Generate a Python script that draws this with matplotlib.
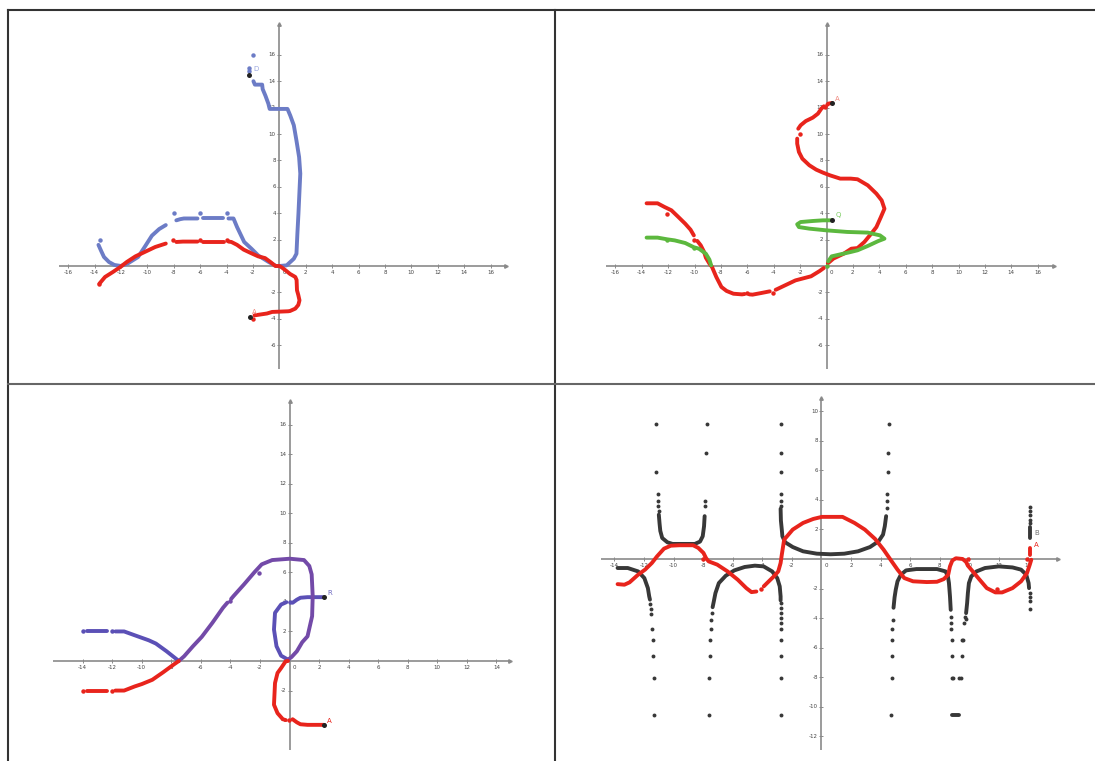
import numpy as np
import matplotlib
matplotlib.use("Agg")
import matplotlib.pyplot as plt
from matplotlib.lines import Line2D

W, H = 1095, 761

# ---------------- colours ----------------
RED = "#e8241c"
BLUE = "#6c7cc6"
GREEN = "#5cb83e"
PURPLE = "#734aa8"
VIOLET = "#5b50b6"
DARK = "#383838"
AXIS = "#8a8a8a"

# ---------------- panel 1 : blue and red traces ----------------
p1_blue_a_x = [-13.7, -13.5, -13.28, -12.9, -12.5, -12.0]
p1_blue_a_y = [1.6, 1.15, 0.68, 0.3, 0.08, 0.0]
p1_blue_b_x = [-12.0, -11.5, -10.7, -10.2, -9.65, -9.1, -8.6]
p1_blue_b_y = [0.0, 0.18, 0.68, 1.44, 2.3, 2.8, 3.1]
p1_blue_c_x = [-7.8, -7.5, -7.23, -6.2]
p1_blue_c_y = [3.46, 3.55, 3.6, 3.6]
p1_blue_d_x = [-5.8, -4.27]
p1_blue_d_y = [3.6, 3.6]
p1_blue_e_x = [-3.85, -3.47, -3.2, -2.66, -2.1, -1.6, -0.8, -0.24, 0.0, 0.56, 1.1, 1.3,
               1.37, 1.45, 1.59, 1.5, 1.3, 1.1, 0.83, 0.62, -0.73, -0.83, -1.05, -1.26,
               -1.3, -1.85, -1.96]
p1_blue_e_y = [3.6, 3.6, 2.95, 1.82, 1.3, 0.8, 0.3, 0.0, 0.0, 0.05, 0.55, 0.93,
               2.45, 3.96, 7.0, 8.25, 9.5, 10.66, 11.4, 11.9, 11.9, 12.3, 12.9, 13.4,
               13.74, 13.74, 14.0]
p1_blue_dots_x = [-13.55, -8.0, -6.0, -4.0, -2.0, -2.27, -2.27]
p1_blue_dots_y = [1.94, 4.0, 4.0, 4.0, 16.0, 14.97, 14.75]

p1_red_a_x = [-13.63, -13.2, -12.6, -12.05, -11.56, -10.9, -10.2, -9.4, -8.6]
p1_red_a_y = [-1.34, -0.83, -0.45, -0.08, 0.3, 0.73, 1.06, 1.44, 1.7]
p1_red_b_x = [-7.8, -7.3, -6.2]
p1_red_b_y = [1.82, 1.85, 1.85]
p1_red_c_x = [-5.78, -4.17]
p1_red_c_y = [1.85, 1.85]
p1_red_d_x = [-3.85, -3.63, -3.2, -2.7, -2.15, -1.6, -1.08, -0.67, -0.3, 0.0, 0.18, 0.54,
              0.81, 1.21, 1.31, 1.34, 1.44, 1.53, 1.44, 1.21, 0.81, 0.67, -0.54, -0.94,
              -1.88]
p1_red_d_y = [1.85, 1.82, 1.6, 1.24, 0.98, 0.73, 0.6, 0.3, 0.0, 0.0, -0.1, -0.38,
              -0.6, -0.83, -1.06, -1.84, -2.2, -2.6, -2.95, -3.23, -3.41, -3.43, -3.48, -3.6,
              -3.74]
p1_red_dots_x = [-13.63, -8.05, -6.0, -4.0, -2.0]
p1_red_dots_y = [-1.34, 2.0, 2.0, 2.0, -4.0]
p1_points = [("D", -2.27, 14.5, -1.95, 14.9, "#9aa6de"),
             ("A", -2.25, -3.84, -2.05, -3.5, "#f08a80")]

# ---------------- panel 2 : red and green traces ----------------
p2_red_a_x = [-13.63, -12.8, -12.27, -11.75, -11.22, -10.7, -10.3, -10.05]
p2_red_a_y = [4.75, 4.75, 4.47, 4.22, 3.71, 3.2, 2.75, 2.32]
p2_red_b_x = [-9.79, -9.53, -9.27, -9.14, -8.87, -8.67, -8.35, -7.96, -7.57, -7.05, -6.4, -6.2]
p2_red_b_y = [1.9, 1.57, 1.06, 0.63, 0.18, -0.08, -0.83, -1.59, -1.89, -2.1, -2.15, -2.12]
p2_red_c_x = [-5.85, -5.6, -4.96, -4.3]
p2_red_c_y = [-2.15, -2.17, -2.05, -1.92]
p2_red_d_x = [-3.85, -3.78, -3.13, -2.35, -1.17, -0.52, -0.2]
p2_red_d_y = [-1.8, -1.77, -1.46, -1.09, -0.78, -0.38, -0.15]
p2_red_e_x = [0.1, 0.52, 1.3, 1.88, 2.35, 2.87, 3.39, 3.78, 4.12, 4.39, 4.18, 3.78, 3.13,
              2.35, 1.83, 1.04, 0.26, -0.26, -0.78, -1.3, -1.83, -2.09, -2.22, -2.22]
p2_red_e_y = [0.2, 0.56, 0.93, 1.31, 1.36, 1.82, 2.45, 2.95, 3.71, 4.34, 4.97, 5.48, 6.11,
              6.57, 6.62, 6.62, 6.87, 7.07, 7.3, 7.63, 8.13, 8.64, 9.27, 9.65]
p2_red_f_x = [-2.14, -1.96, -1.57, -1.04, -0.65, -0.39, -0.2]
p2_red_f_y = [10.4, 10.66, 10.98, 11.24, 11.54, 11.92, 12.1]
p2_red_g_x = [0.05, 0.13, 0.42]
p2_red_g_y = [12.2, 12.3, 12.35]
p2_red_dots_x = [-12.06, -10.05, -6.06, -4.07, -2.04, -0.08]
p2_red_dots_y = [3.96, 2.0, -2.02, -2.02, 9.97, 12.05]

p2_green_a_x = [-13.63, -12.8, -12.06, -11.5, -10.7, -10.05, -9.66, -9.14, -8.87, -8.74]
p2_green_a_y = [2.15, 2.15, 2.02, 1.94, 1.74, 1.42, 1.31, 0.93, 0.48, 0.05]
p2_green_b_x = [0.13, 0.39, 1.04, 1.83, 2.35, 3.13, 3.92, 4.39, 4.05, 3.13, 1.57, 0.0,
                -1.3, -2.09, -2.22, -1.96, -1.04, -0.26, 0.42]
p2_green_b_y = [0.35, 0.73, 0.88, 1.06, 1.19, 1.52, 1.89, 2.07, 2.32, 2.53, 2.58, 2.7,
                2.83, 2.95, 3.16, 3.33, 3.41, 3.46, 3.46]
p2_green_dots_x = [-12.06, -10.05, 0.0]
p2_green_dots_y = [2.0, 1.35, 0.0]
p2_points = [("A", 0.42, 12.32, 0.65, 12.68, "#f08a80"),
             ("Q", 0.42, 3.46, 0.68, 3.84, "#7acc60")]

# ---------------- panel 3 : violet and red traces ----------------
p3_violet_a_x = [-13.69, -12.38]
p3_violet_a_y = [2.0, 2.0]
p3_violet_b_x = [-11.78, -11.19, -10.47, -9.52, -9.04, -8.32, -7.6, -7.49]
p3_violet_b_y = [2.0, 2.0, 1.74, 1.4, 1.18, 0.66, 0.09, 0.0]
p3_violet_dots_x = [-14.0, -12.0, 0.0]
p3_violet_dots_y = [2.0, 2.0, 3.98]
p3_purple_a_x = [-7.49, -7.13, -6.53, -5.94, -5.22, -4.5, -4.2]
p3_purple_a_y = [0.0, 0.32, 1.0, 1.63, 2.58, 3.6, 3.95]
p3_purple_b_x = [-3.95, -3.79, -3.08, -2.36, -2.1, -1.88, -1.17, 0.02, 0.98, 1.34, 1.5,
                 1.57, 1.53, 1.22, 0.86, 0.5, 0.14, -0.1]
p3_purple_b_y = [4.2, 4.39, 5.18, 6.02, 6.3, 6.54, 6.83, 6.92, 6.83, 6.43, 5.86,
                 4.39, 3.03, 1.67, 1.27, 0.66, 0.27, 0.09]
p3_purple_dots_x = [-4.03, -2.05]
p3_purple_dots_y = [4.05, 5.97]
p3_violet_c_x = [-0.1, -0.57, -0.88, -1.05, -0.98, -0.57, -0.21]
p3_violet_c_y = [0.09, 0.36, 1.0, 2.13, 3.26, 3.82, 3.98]
p3_violet_d_x = [0.21, 0.5, 0.74, 1.22, 2.34]
p3_violet_d_y = [3.94, 4.15, 4.28, 4.32, 4.32]

p3_red_a_x = [-13.69, -12.38]
p3_red_a_y = [-2.0, -2.0]
p3_red_b_x = [-11.78, -11.19, -10.47, -9.99, -9.28, -8.56, -7.85, -7.49]
p3_red_b_y = [-2.0, -2.0, -1.72, -1.56, -1.27, -0.77, -0.25, 0.0]
p3_red_c_x = [-0.1, -0.26, -0.57, -0.81, -0.98, -1.05, -0.81, -0.45, -0.25]
p3_red_c_y = [0.0, -0.02, -0.48, -0.81, -1.49, -2.96, -3.53, -3.94, -4.0]
p3_red_d_x = [0.21, 0.5, 0.74, 1.22, 2.34]
p3_red_d_y = [-3.94, -4.15, -4.28, -4.32, -4.32]
p3_red_dots_x = [-14.0, -12.0, -0.02]
p3_red_dots_y = [-2.0, -2.0, -4.0]
p3_points = [("R", 2.34, 4.3, 2.53, 4.62, "#6a66c0"),
             ("A", 2.34, -4.34, 2.53, -4.05, RED)]

# ---------------- panel 4 : dark branches and red trace ----------------
p4_dark_curves = [
    ([-13.79, -13.1, -12.4, -11.98, -11.74, -11.65, -11.6],
     [-0.61, -0.61, -0.84, -1.29, -1.97, -2.53, -2.75]),
    ([-11.0, -10.95, -10.9, -10.77, -10.42, -10.07, -8.56, -8.21, -8.03, -7.94, -7.9],
     [3.0, 2.4, 1.9, 1.42, 1.13, 1.02, 1.02, 1.18, 1.54, 2.22, 2.9]),
    ([-7.36, -7.28, -7.17, -6.94, -6.47, -5.89, -5.19, -4.5, -3.91, -3.33, -2.99, -2.82,
      -2.76, -2.76],
     [-3.26, -2.87, -2.31, -1.63, -1.13, -0.77, -0.54, -0.45, -0.5, -0.84, -1.29, -1.85,
      -2.53, -2.8]),
    ([-2.76, -2.74, -2.68, -2.64, -2.45, -1.94, -1.24, -0.31, 0.62, 1.55, 2.48, 3.29, 3.87,
      4.17, 4.29, 4.38],
     [3.4, 2.6, 1.99, 1.54, 1.13, 0.81, 0.52, 0.36, 0.32, 0.36, 0.52, 0.81, 1.2,
      1.65, 2.22, 2.9]),
    ([4.88, 4.95, 5.03, 5.15, 5.38, 5.73, 6.43, 7.82, 8.4, 8.56, 8.63, 8.7, 8.75],
     [-3.3, -2.6, -2.08, -1.51, -1.06, -0.77, -0.68, -0.68, -0.84, -1.18, -1.63, -2.53,
      -3.44]),
    ([9.79, 9.86, 9.91, 9.98, 10.14, 10.49, 11.07, 12.0, 12.93, 13.51, 13.86, 14.02, 14.05],
     [-3.66, -2.98, -2.31, -1.63, -1.18, -0.84, -0.61, -0.5, -0.57, -0.72, -1.06, -1.63,
      -1.97]),
    ([14.14, 14.14], [1.42, 2.17]),
    ([8.86, 9.33], [-10.54, -10.54]),
]
p4_dark_dots_x = [-11.58, -11.56, -11.54, -11.47, -11.42, -11.4, -11.35, -11.35,
                  -11.21, -11.16, -11.07, -11.05, -11.03, -11.0,
                  -7.9, -7.9, -7.82, -7.75,
                  -7.61, -7.59, -7.56, -7.52, -7.5, -7.45, -7.41,
                  -2.76, -2.76, -2.76, -2.76, -2.76, -2.76, -2.76, -2.76, -2.76, -2.76,
                  -2.76, -2.76, -2.76, -2.76, -2.76, -2.76,
                  4.42, 4.44, 4.46, 4.5, 4.53, 4.56,
                  4.73, 4.75, 4.77, 4.79, 4.81, 4.84,
                  8.78, 8.8, 8.8, 8.82, 8.82, 8.86, 8.93,
                  9.33, 9.45, 9.5, 9.56, 9.51, 9.68, 9.72, 9.75,
                  14.08, 14.08, 14.08, 14.1,
                  14.14, 14.14, 14.14, 14.14, 14.14]
p4_dark_dots_y = [-3.03, -3.39, -3.71, -4.75, -5.47, -6.53, -8.05, -10.54,
                  9.11, 5.92, 4.41, 3.91, 3.57, 3.23,
                  3.57, 3.91, 7.17, 9.11,
                  -10.54, -8.05, -6.53, -5.47, -4.75, -4.11, -3.66,
                  -3.0, -3.3, -3.66, -4.0, -4.35, -4.75, -5.47, -6.53, -8.05, -10.54,
                  9.11, 7.17, 5.92, 4.41, 3.91, 3.6,
                  3.46, 3.91, 4.41, 5.92, 7.17, 9.11,
                  -10.54, -8.05, -6.53, -5.47, -4.75, -4.11,
                  -3.9, -4.3, -4.75, -5.47, -6.53, -8.05, -8.05,
                  -8.05, -8.05, -6.53, -5.47, -5.47, -4.3, -3.9, -4.05,
                  -2.3, -2.6, -2.87, -3.37,
                  3.53, 3.24, 2.95, 2.67, 2.44]

p4_red_a_x = [-13.79, -13.33, -12.98, -12.4, -11.93, -11.47, -11.12, -10.65, -10.19, -9.61,
              -8.68, -8.33, -7.98, -7.8, -7.63, -7.05, -6.35, -5.66, -5.08, -4.73, -4.4]
p4_red_a_y = [-1.7, -1.74, -1.58, -1.06, -0.72, -0.27, 0.18, 0.7, 0.9, 0.93,
              0.93, 0.75, 0.41, 0.05, -0.16, -0.38, -0.84, -1.4, -1.97, -2.24, -2.2]
p4_red_b_x = [-3.9, -3.68, -3.22, -2.92, -2.76, -2.68, -2.52, -1.94, -1.24, -0.55, 0.03,
              1.43, 2.24, 2.94, 3.63, 4.21, 4.68, 5.15, 5.61, 6.2, 7.13, 7.82, 8.28, 8.58,
              8.7, 8.86, 9.1, 9.56, 9.79, 9.91, 10.14, 10.61, 11.19, 11.77, 12.23, 12.93,
              13.51, 13.91, 14.1, 14.2]
p4_red_b_y = [-1.85, -1.63, -1.18, -0.84, -0.27, 0.29, 1.31, 1.99, 2.44, 2.71, 2.85,
              2.85, 2.44, 1.99, 1.36, 0.63, -0.05, -0.72, -1.29, -1.51, -1.56, -1.54, -1.36,
              -1.06, -0.5, -0.1, 0.05, 0.0, -0.2, -0.45, -0.72, -1.29, -1.97, -2.26, -2.26,
              -1.97, -1.51, -0.95, -0.38, -0.05]
p4_red_c_x = [14.14, 14.14]
p4_red_c_y = [0.27, 0.72]
p4_red_dots_x = [-8.03, -4.08, 9.91, 11.9, 13.9]
p4_red_dots_y = [0.0, -2.03, 0.0, -2.0, 0.0]
p4_points = [("B", None, None, 14.38, 1.74, "#707070"),
             ("A", None, None, 14.38, 0.95, RED)]

# ---------------- axes ticks ----------------
p1_xticks = [-16, -14, -12, -10, -8, -6, -4, -2, 2, 4, 6, 8, 10, 12, 14, 16]
p1_yticks = [-6, -4, -2, 2, 4, 6, 8, 10, 12, 14, 16]
p3_xticks = [-14, -12, -10, -8, -6, -4, -2, 2, 4, 6, 8, 10, 12, 14]
p3_yticks = [-4, -2, 2, 4, 6, 8, 10, 12, 14, 16]
p4_xticks = [-14, -12, -10, -8, -6, -4, -2, 2, 4, 6, 8, 10, 12, 14]
p4_yticks = [-12, -10, -8, -6, -4, -2, 2, 4, 6, 8, 10]

fig = plt.figure(figsize=(W / 100, H / 100), dpi=100)
fig.patch.set_facecolor("white")


def make_panel(box, origin, scale, xspan, yspan, xticks, yticks):
    l, t, r, b = box
    ox, oy = origin
    ax = fig.add_axes([l / W, 1 - b / H, (r - l) / W, (b - t) / H])
    ax.set_xlim((l - ox) / scale, (r - ox) / scale)
    ax.set_ylim((oy - b) / scale, (oy - t) / scale)
    ax.axis("off")
    ax.plot(xspan, [0, 0], color=AXIS, lw=1.2, zorder=1, solid_capstyle="butt")
    ax.plot([0, 0], yspan, color=AXIS, lw=1.2, zorder=1, solid_capstyle="butt")
    ax.plot([xspan[1]], [0], marker=">", ms=2.5, color=AXIS, zorder=1)
    ax.plot([0], [yspan[1]], marker="^", ms=2.5, color=AXIS, zorder=1)
    for v in xticks:
        ax.plot([v], [0], marker="|", ms=2.5, mew=0.7, color=AXIS, zorder=1)
        ax.annotate(str(v), (v, 0), xytext=(0, -3), textcoords="offset points",
                    ha="center", va="top", fontsize=4, color="#444444")
    for v in yticks:
        ax.plot([0], [v], marker="_", ms=2.5, mew=0.7, color=AXIS, zorder=1)
        ax.annotate(str(v), (0, v), xytext=(-2.5, 0), textcoords="offset points",
                    ha="right", va="center", fontsize=4, color="#444444")
    ax.annotate("0", (0, 0), xytext=(2.5, -3), textcoords="offset points",
                ha="left", va="top", fontsize=4, color="#444444")
    return ax


def trace(ax, xs, ys, color):
    ax.plot(xs, ys, color=color, lw=2.8, solid_capstyle="round",
            solid_joinstyle="round", zorder=3)


def dots(ax, xs, ys, color, ms=3.2):
    ax.plot(xs, ys, ls="none", marker="o", ms=ms, mec="none", color=color, zorder=4)


def labelled_points(ax, pts):
    for name, px, py, lx, ly, c in pts:
        if px is not None:
            ax.plot([px], [py], marker="o", ms=3.6, color="#222222", mec="none", zorder=5)
        ax.text(lx, ly, name, fontsize=5, color=c, ha="left", va="center", zorder=5)


# panel 1
ax1 = make_panel((9, 11, 554, 382), (279.3, 266), 13.2, (-16.7, 17.2), (-7.8, 18.3),
                 p1_xticks, p1_yticks)
for xs, ys in [(p1_blue_a_x, p1_blue_a_y), (p1_blue_b_x, p1_blue_b_y),
               (p1_blue_c_x, p1_blue_c_y), (p1_blue_d_x, p1_blue_d_y),
               (p1_blue_e_x, p1_blue_e_y)]:
    trace(ax1, xs, ys, BLUE)
dots(ax1, p1_blue_dots_x, p1_blue_dots_y, BLUE)
for xs, ys in [(p1_red_a_x, p1_red_a_y), (p1_red_b_x, p1_red_b_y),
               (p1_red_c_x, p1_red_c_y), (p1_red_d_x, p1_red_d_y)]:
    trace(ax1, xs, ys, RED)
dots(ax1, p1_red_dots_x, p1_red_dots_y, RED)
labelled_points(ax1, p1_points)

# panel 2
ax2 = make_panel((556, 11, 1095, 382), (826.5, 266), 13.2, (-16.7, 17.2), (-7.8, 18.3),
                 p1_xticks, p1_yticks)
for xs, ys in [(p2_red_a_x, p2_red_a_y), (p2_red_b_x, p2_red_b_y),
               (p2_red_c_x, p2_red_c_y), (p2_red_d_x, p2_red_d_y),
               (p2_red_e_x, p2_red_e_y), (p2_red_f_x, p2_red_f_y),
               (p2_red_g_x, p2_red_g_y)]:
    trace(ax2, xs, ys, RED)
dots(ax2, p2_red_dots_x, p2_red_dots_y, RED)
for xs, ys in [(p2_green_a_x, p2_green_a_y), (p2_green_b_x, p2_green_b_y)]:
    trace(ax2, xs, ys, GREEN)
dots(ax2, p2_green_dots_x, p2_green_dots_y, GREEN)
labelled_points(ax2, p2_points)

# panel 3
ax3 = make_panel((9, 385, 554, 761), (289.5, 661), 14.78, (-16.0, 14.95), (-6.0, 17.6),
                 p3_xticks, p3_yticks)
for xs, ys in [(p3_violet_a_x, p3_violet_a_y), (p3_violet_b_x, p3_violet_b_y),
               (p3_violet_c_x, p3_violet_c_y), (p3_violet_d_x, p3_violet_d_y)]:
    trace(ax3, xs, ys, VIOLET)
dots(ax3, p3_violet_dots_x, p3_violet_dots_y, VIOLET)
for xs, ys in [(p3_purple_a_x, p3_purple_a_y), (p3_purple_b_x, p3_purple_b_y)]:
    trace(ax3, xs, ys, PURPLE)
dots(ax3, p3_purple_dots_x, p3_purple_dots_y, PURPLE)
for xs, ys in [(p3_red_a_x, p3_red_a_y), (p3_red_b_x, p3_red_b_y),
               (p3_red_c_x, p3_red_c_y), (p3_red_d_x, p3_red_d_y)]:
    trace(ax3, xs, ys, RED)
dots(ax3, p3_red_dots_x, p3_red_dots_y, RED)
labelled_points(ax3, p3_points)

# panel 4
ax4 = make_panel((556, 385, 1095, 761), (821.4, 559), 14.78, (-14.9, 16.0), (-12.9, 10.9),
                 p4_xticks, p4_yticks)
for xs, ys in p4_dark_curves:
    trace(ax4, xs, ys, DARK)
dots(ax4, p4_dark_dots_x, p4_dark_dots_y, DARK, ms=2.8)
for xs, ys in [(p4_red_a_x, p4_red_a_y), (p4_red_b_x, p4_red_b_y),
               (p4_red_c_x, p4_red_c_y)]:
    trace(ax4, xs, ys, RED)
dots(ax4, p4_red_dots_x, p4_red_dots_y, RED)
labelled_points(ax4, p4_points)

# grid frame around the four panels
def fig_line(x0, y0, x1, y1, color, lw):
    fig.add_artist(Line2D([x0 / W, x1 / W], [1 - y0 / H, 1 - y1 / H],
                          transform=fig.transFigure, color=color, lw=lw))

fig_line(8, 10, 1095, 10, "#333333", 1.5)
fig_line(8, 10, 8, 761, "#333333", 1.5)
fig_line(555, 10, 555, 761, "#333333", 1.5)
fig_line(8, 383.5, 1095, 383.5, "#666666", 1.5)

fig.savefig("out.png", dpi=100, facecolor="white")
